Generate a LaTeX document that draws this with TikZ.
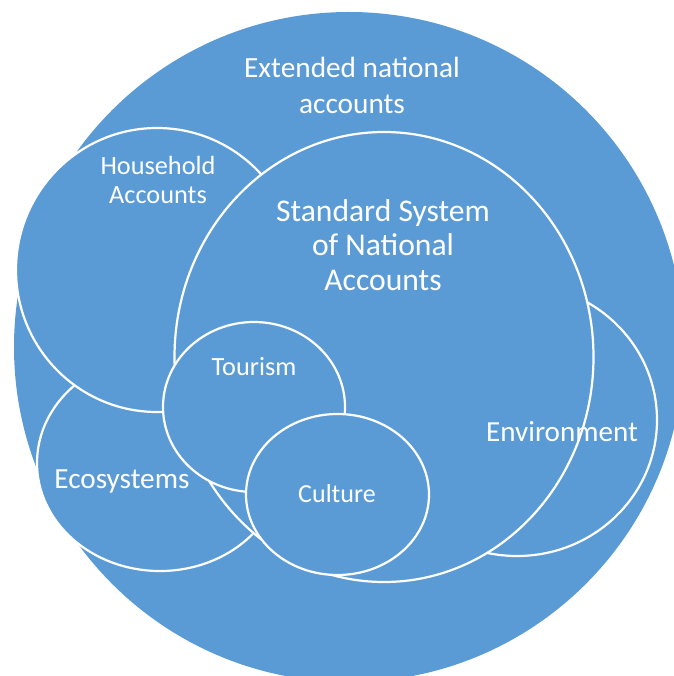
\documentclass[tikz,border=0pt]{standalone}
\usepackage{fontspec}
\setmainfont{Carlito}
\definecolor{accblue}{HTML}{5B9BD5}

\begin{document}
\begin{tikzpicture}[x=1pt,y=-1pt]
    % Define area shapes
    \tikzstyle{area}=[fill=accblue, draw=white, line width=2.2pt]
    \tikzstyle{areatext}=[text=white, align=center, inner sep=0pt]

    \useasboundingbox (0,0) rectangle (673,676);

    % Place outer circle
    \fill[accblue] (349,347) circle (335);

    % Place side areas
    \filldraw[area] (160,463) ellipse (123 and 108);
    \filldraw[area] (517,420) ellipse (140 and 136);
    \filldraw[area] (157,270) ellipse (141 and 142);

    % Place standard system and its parts
    \filldraw[area] (384,357) ellipse (209.5 and 225);
    \filldraw[area] (254,407) ellipse (91 and 85);
    \filldraw[area] (337.5,494.5) ellipse (91.5 and 80.5);

    % Labels
    \node[areatext, font=\fontsize{29.3}{36}\selectfont] (extended) at (352,85) {Extended national\\accounts};
    \node[areatext, font=\fontsize{26.3}{29}\selectfont] (household) at (158,180) {Household\\Accounts};
    \node[areatext, font=\fontsize{31.6}{34.5}\selectfont] (standard) at (383,245) {Standard System\\of National\\Accounts};
    \node[areatext, font=\fontsize{26.3}{30}\selectfont] (tourism) at (254,367) {Tourism};
    \node[areatext, font=\fontsize{26}{30}\selectfont] (culture) at (337,494) {Culture};
    \node[areatext, font=\fontsize{29.2}{34}\selectfont] (ecosystems) at (122,481) {Ecosystems};
    \node[areatext, font=\fontsize{29.1}{34}\selectfont] (environment) at (562,432) {Environment};
\end{tikzpicture}
\end{document}
